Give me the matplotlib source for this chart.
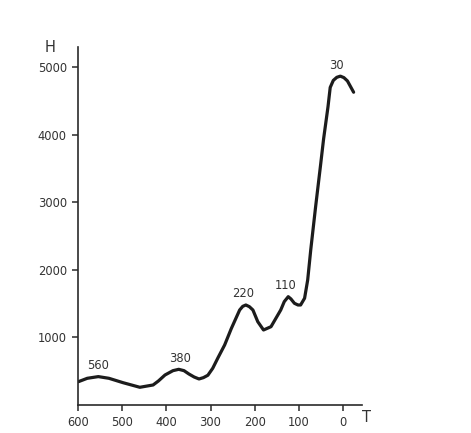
import matplotlib
matplotlib.use('Agg')
import matplotlib.pyplot as plt

# curve (T going from 600 down to below 0)
t_vals = [599, 579, 554, 530, 498, 460, 430, 418, 403, 385, 372, 360, 349,
          337, 326, 316, 306, 295, 283, 268, 253, 234, 227, 220, 212, 204, 193,
          180, 163, 141, 133, 124, 118, 110, 102, 96, 87, 80, 73,
          62, 55, 51, 44, 34, 29, 22, 14, 6, -2, -10, -24]
h_vals = [345, 395, 420, 395, 330, 262, 296, 355, 444, 508, 528, 508, 459,
          414, 385, 405, 440, 543, 700, 888, 1130, 1406, 1460, 1480, 1455, 1406, 1233,
          1110, 1159, 1406, 1530, 1603, 1570, 1505, 1480, 1480, 1580, 1850, 2300,
          2937, 3322, 3542, 3936, 4414, 4700, 4804, 4850, 4867, 4845, 4796, 4629]

# peak labels
peak_names = ['560', '380', '220', '110', '30']
peak_t = [554, 372, 220, 124, 8]
peak_h = [420, 528, 1480, 1603, 4867]
label_dx = [0, 1, -2, -2, -2]

x_ticks = [600, 500, 400, 300, 200, 100, 0]
y_ticks = [1000, 2000, 3000, 4000, 5000]

fig = plt.figure(figsize=(4.71, 4.33), dpi=100)
ax = fig.add_axes([0.1656, 0.0647, 0.603, 0.827])

ax.plot(t_vals, h_vals, color='#1c1c1c', linewidth=2.3,
        solid_capstyle='round', solid_joinstyle='round')

for name, t, h, dx in zip(peak_names, peak_t, peak_h, label_dx):
    ax.annotate(name, xy=(t, h), xytext=(dx, 8), textcoords='offset points',
                ha='center', va='center', fontsize=8.3, color='#333333')

ax.set_xlim(600, -43)
ax.set_ylim(0, 5300)
ax.set_xticks(x_ticks)
ax.set_yticks(y_ticks)
ax.set_xticklabels([str(v) for v in x_ticks])
ax.set_yticklabels([str(v) for v in y_ticks])

for side in ['top', 'right']:
    ax.spines[side].set_visible(False)
for side in ['left', 'bottom']:
    ax.spines[side].set_linewidth(1.2)
    ax.spines[side].set_color('#2a2a2a')

ax.tick_params(axis='both', direction='out', length=4, width=1.1,
               colors='#2a2a2a', labelsize=8.3, labelcolor='#333333')
ax.tick_params(axis='x', pad=4)
ax.tick_params(axis='y', pad=4)

fig.text(50 / 471, 1 - 47 / 433, 'H', fontsize=10.5, color='#333333',
         ha='center', va='center')
fig.text(366 / 471, 1 - 418 / 433, 'T', fontsize=10.5, color='#333333',
         ha='center', va='center')

fig.savefig('out.png', dpi=100)
